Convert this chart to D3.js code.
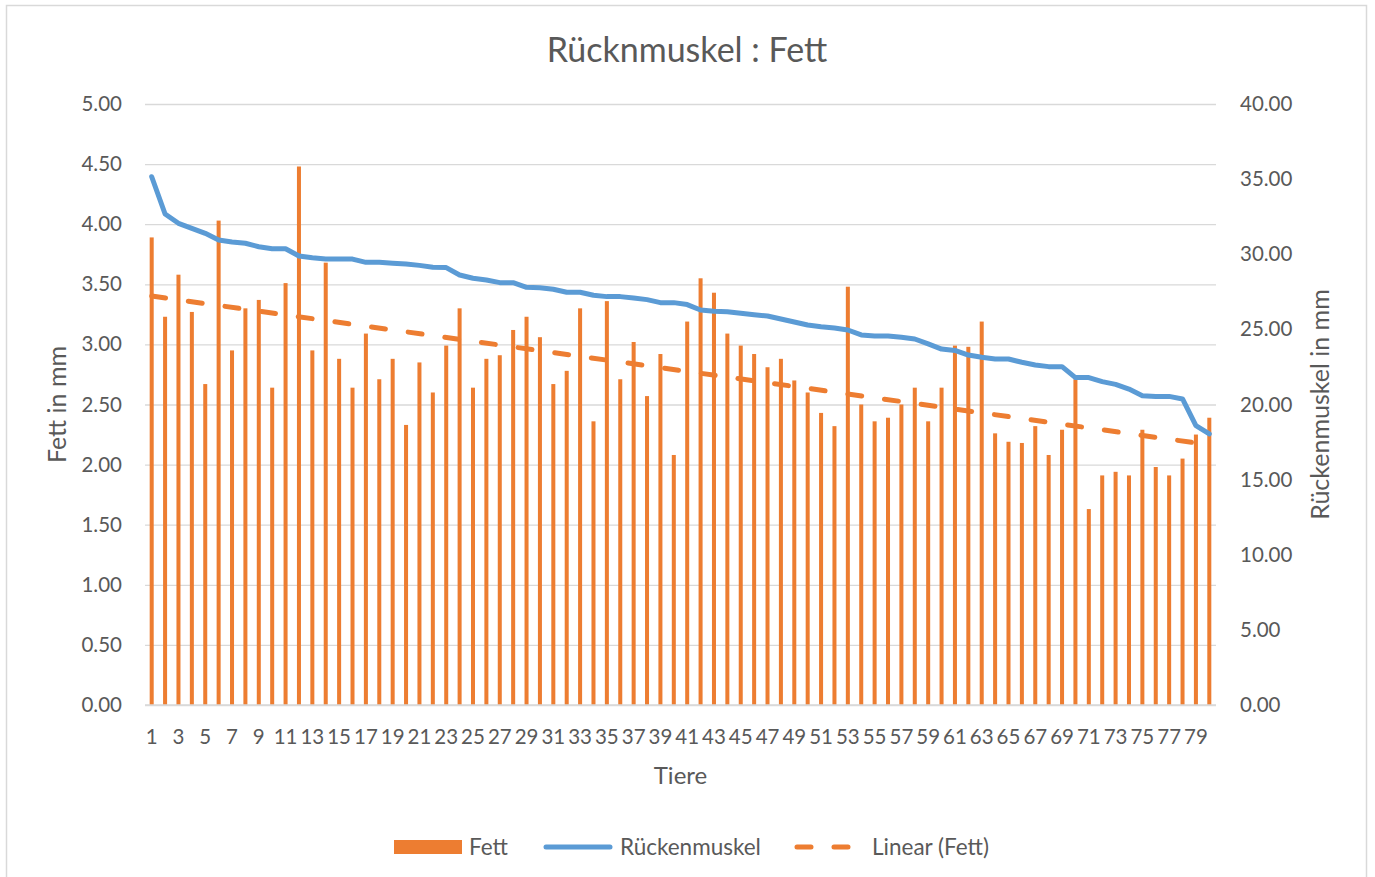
<html>
<head>
  <meta charset="utf-8">
  <title>Rücknmuskel : Fett</title>
  <script src="https://d3js.org/d3.v7.min.js"></script>
  <style>
    body { margin: 0; background: #fff; }
    text { font-family: Lato, "Open Sans", sans-serif; fill: #595959; }
  </style>
</head>
<body>
  <div id="chart"></div>

  <script type="text/javascript">
    // values
    var tiere = d3.range(1, 81);

    var fett = [3.89, 3.23, 3.58, 3.27, 2.67, 4.03, 2.95, 3.30, 3.37, 2.64,
                3.51, 4.48, 2.95, 3.68, 2.88, 2.64, 3.09, 2.71, 2.88, 2.33,
                2.85, 2.60, 2.99, 3.30, 2.64, 2.88, 2.91, 3.12, 3.23, 3.06,
                2.67, 2.78, 3.30, 2.36, 3.36, 2.71, 3.02, 2.57, 2.92, 2.08,
                3.19, 3.55, 3.43, 3.09, 2.99, 2.92, 2.81, 2.88, 2.70, 2.60,
                2.43, 2.32, 3.48, 2.50, 2.36, 2.39, 2.50, 2.64, 2.36, 2.64,
                2.99, 2.98, 3.19, 2.26, 2.19, 2.18, 2.32, 2.08, 2.29, 2.71,
                1.63, 1.91, 1.94, 1.91, 2.29, 1.98, 1.91, 2.05, 2.25, 2.39];

    var ruecken = [35.16, 32.68, 32.06, 31.72, 31.39, 30.95, 30.82, 30.73, 30.50, 30.37,
                   30.37, 29.88, 29.77, 29.68, 29.68, 29.68, 29.46, 29.46, 29.40, 29.35,
                   29.26, 29.13, 29.11, 28.62, 28.40, 28.29, 28.11, 28.11, 27.80, 27.77,
                   27.67, 27.47, 27.47, 27.27, 27.18, 27.18, 27.09, 26.98, 26.78, 26.78,
                   26.65, 26.29, 26.20, 26.18, 26.07, 25.98, 25.89, 25.69, 25.49, 25.29,
                   25.18, 25.09, 24.96, 24.63, 24.56, 24.56, 24.47, 24.36, 24.03, 23.69,
                   23.60, 23.29, 23.14, 23.03, 23.03, 22.81, 22.63, 22.52, 22.52, 21.79,
                   21.79, 21.52, 21.34, 21.03, 20.59, 20.54, 20.54, 20.37, 18.59, 18.04];

    var leftTicks = [0, 0.5, 1, 1.5, 2, 2.5, 3, 3.5, 4, 4.5, 5];
    var rightTicks = [0, 5, 10, 15, 20, 25, 30, 35, 40];
    var xTickLabels = tiere.filter(function(d) { return d % 2 == 1; });

    var orange = '#ed7d31', blue = '#5b9bd5', grid = '#d9d9d9';

    var W = 1375, H = 877;
    var margin = {top: 104, right: 159, bottom: 172, left: 145};
    var width = W - margin.left - margin.right;
    var height = H - margin.top - margin.bottom;

    var x = d3.scaleBand().domain(tiere).range([0, width]).paddingInner(0.7).paddingOuter(0.35);
    var xc = function(d) { return x(d) + x.bandwidth() / 2; };
    var y = d3.scaleLinear().domain([0, 5]).range([height, 0]);
    var y2 = d3.scaleLinear().domain([0, 40]).range([height, 0]);

    var svg = d3.select('#chart').append('svg')
                .attr('width', W)
                .attr('height', H);

    // chart border
    svg.append('rect')
       .attr('x', 6.5).attr('y', 5.5)
       .attr('width', 1360).attr('height', 900)
       .attr('fill', 'none')
       .attr('stroke', grid)
       .attr('stroke-width', 1.5);

    svg.append('text')
       .attr('x', 687).attr('y', 62)
       .attr('text-anchor', 'middle')
       .style('font-size', '34px')
       .text('Rücknmuskel : Fett');

    var g = svg.append('g')
               .attr('transform', 'translate(' + margin.left + ',' + margin.top + ')');

    // gridlines + left axis
    var yAxis = d3.axisLeft(y).tickValues(leftTicks).tickFormat(d3.format('.2f'))
                  .tickSize(-width).tickPadding(23);
    var ya = g.append('g').attr('class', 'y-axis').call(yAxis);
    ya.select('.domain').remove();
    ya.selectAll('line').attr('stroke', grid).attr('stroke-width', 1.3);
    ya.selectAll('text').style('font-size', '20.5px').attr('fill', '#595959');

    var y2Axis = d3.axisRight(y2).tickValues(rightTicks).tickFormat(d3.format('.2f'))
                   .tickSize(0).tickPadding(24);
    var y2a = g.append('g').attr('class', 'y2-axis')
               .attr('transform', 'translate(' + width + ',0)')
               .call(y2Axis);
    y2a.select('.domain').remove();
    y2a.selectAll('text').style('font-size', '20.5px').attr('fill', '#595959');

    // bars
    g.append('g').selectAll('rect')
     .data(fett)
     .enter().append('rect')
       .attr('x', function(d, i) { return x(tiere[i]); })
       .attr('y', function(d) { return y(d); })
       .attr('width', x.bandwidth())
       .attr('height', function(d) { return height - y(d); })
       .attr('fill', orange);

    // x axis
    var xAxis = d3.axisBottom(x).tickValues(xTickLabels).tickSize(0).tickPadding(24);
    var xa = g.append('g').attr('class', 'x-axis')
              .attr('transform', 'translate(0,' + height + ')')
              .call(xAxis);
    xa.select('.domain').attr('stroke', grid).attr('stroke-width', 1.3)
      .attr('d', 'M0,0H' + width);
    xa.selectAll('text').style('font-size', '20.5px').attr('fill', '#595959');

    // linear trend of Fett (least squares)
    var mx = d3.mean(tiere), my = d3.mean(fett);
    var sxy = d3.sum(tiere, function(t, i) { return (t - mx) * (fett[i] - my); });
    var sxx = d3.sum(tiere, function(t) { return (t - mx) * (t - mx); });
    var slope = sxy / sxx, icpt = my - slope * mx;
    var ends = [tiere[0], tiere[tiere.length - 1]];

    g.append('path')
     .datum(ends)
     .attr('d', d3.line()
                  .x(function(d) { return xc(d); })
                  .y(function(d) { return y(icpt + slope * d); }))
     .attr('fill', 'none')
     .attr('stroke', orange)
     .attr('stroke-width', 5)
     .attr('stroke-linecap', 'round')
     .attr('stroke-dasharray', '14,23');

    // Rückenmuskel line
    g.append('path')
     .datum(ruecken)
     .attr('d', d3.line()
                  .x(function(d, i) { return xc(tiere[i]); })
                  .y(function(d) { return y2(d); }))
     .attr('fill', 'none')
     .attr('stroke', blue)
     .attr('stroke-width', 5)
     .attr('stroke-linejoin', 'round')
     .attr('stroke-linecap', 'round');

    // axis titles
    svg.append('text')
       .attr('transform', 'translate(66,' + (margin.top + height / 2) + ') rotate(-90)')
       .attr('text-anchor', 'middle')
       .style('font-size', '25px')
       .text('Fett in mm');

    svg.append('text')
       .attr('transform', 'translate(1329,' + (margin.top + height / 2) + ') rotate(-90)')
       .attr('text-anchor', 'middle')
       .style('font-size', '25px')
       .text('Rückenmuskel in mm');

    svg.append('text')
       .attr('x', margin.left + width / 2).attr('y', 784)
       .attr('text-anchor', 'middle')
       .style('font-size', '24px')
       .text('Tiere');

    // legend
    var lg = svg.append('g').attr('class', 'legend');
    lg.append('rect').attr('x', 394).attr('y', 840).attr('width', 68).attr('height', 14).attr('fill', orange);
    lg.append('text').attr('x', 469).attr('y', 855).style('font-size', '22.5px').text('Fett');

    lg.append('line').attr('x1', 546).attr('x2', 610).attr('y1', 847).attr('y2', 847)
      .attr('stroke', blue).attr('stroke-width', 5).attr('stroke-linecap', 'round');
    lg.append('text').attr('x', 620).attr('y', 855).style('font-size', '22.5px').text('Rückenmuskel');

    lg.append('line').attr('x1', 797).attr('x2', 852).attr('y1', 847).attr('y2', 847)
      .attr('stroke', orange).attr('stroke-width', 5).attr('stroke-linecap', 'round')
      .attr('stroke-dasharray', '14,23');
    lg.append('text').attr('x', 872).attr('y', 855).style('font-size', '22.5px').text('Linear (Fett)');
  </script>
</body>
</html>
